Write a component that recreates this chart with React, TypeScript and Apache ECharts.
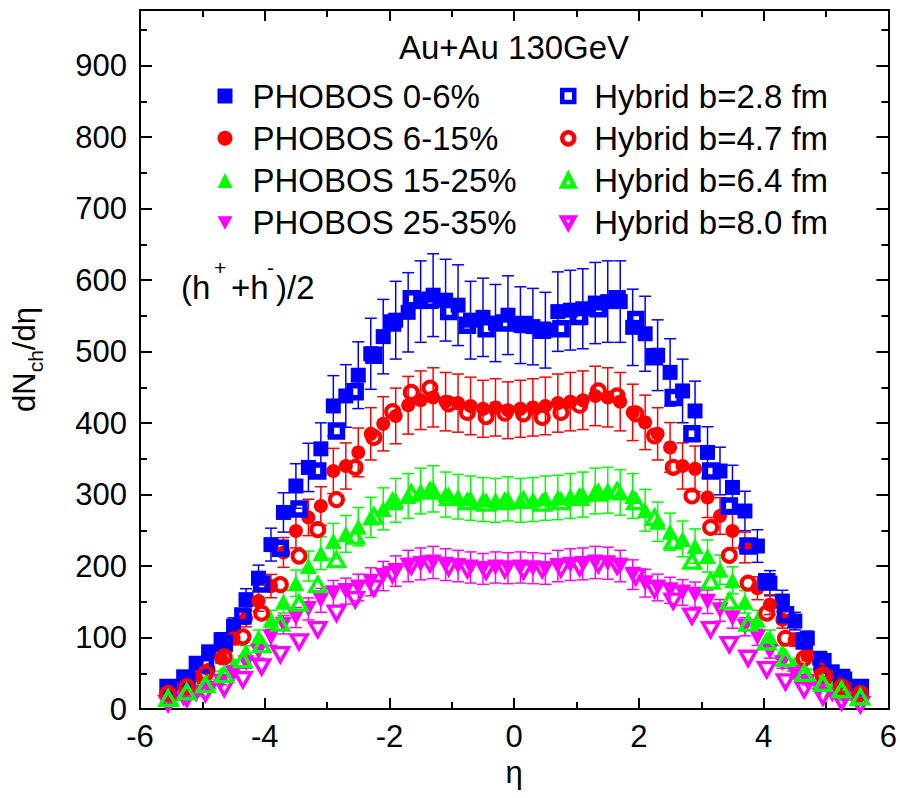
import React, { useEffect, useRef } from 'react';
import * as echarts from 'echarts';

const FONT = '"Liberation Sans", Arial, Helvetica, sans-serif';

// eta bin centres
const ETA_PHOBOS = [-5.5, -5.3, -5.1, -4.9, -4.7, -4.5, -4.3, -4.1, -3.9, -3.7, -3.5, -3.3, -3.1, -2.9, -2.7, -2.5, -2.3, -2.1, -1.9, -1.7, -1.5, -1.3, -1.1, -0.9, -0.7, -0.5, -0.3, -0.1,
  0.1, 0.3, 0.5, 0.7, 0.9, 1.1, 1.3, 1.5, 1.7, 1.9, 2.1, 2.3, 2.5, 2.7, 2.9, 3.1, 3.3, 3.5, 3.7, 3.9, 4.1, 4.3, 4.5, 4.7, 4.9, 5.1, 5.3, 5.5];
const ETA_HYBRID = [-5.55, -5.25, -4.95, -4.65, -4.35, -4.05, -3.75, -3.45, -3.15, -2.85, -2.55, -2.25, -1.95, -1.65, -1.35, -1.05, -0.75, -0.45, -0.15,
  0.15, 0.45, 0.75, 1.05, 1.35, 1.65, 1.95, 2.25, 2.55, 2.85, 3.15, 3.45, 3.75, 4.05, 4.35, 4.65, 4.95, 5.25, 5.55];

// PHOBOS data (dNch/deta)
const PHOBOS_0_6 = [29, 45, 64, 80, 97, 116, 153, 183, 230, 275, 312, 338, 364, 424, 438, 467, 497, 521, 544, 555, 570, 579, 572, 565, 544, 548, 540, 551,
  537, 535, 530, 556, 558, 560, 568, 570, 570, 534, 525, 495, 471, 445, 417, 359, 333, 310, 277, 228, 176, 151, 123, 99, 71, 52, 42, 31];
const PHOBOS_6_15 = [22, 33, 43, 55, 71, 99, 127, 151, 172, 219, 249, 268, 284, 333, 340, 359, 385, 399, 410, 425, 432, 436, 430, 428, 424, 420, 422, 418,
  420, 422, 424, 428, 430, 432, 438, 436, 430, 415, 401, 385, 366, 340, 336, 296, 270, 249, 226, 169, 146, 125, 97, 75, 56, 44, 33, 22];
const PHOBOS_15_25 = [15, 22, 28, 38, 48, 62, 80, 100, 125, 150, 176, 200, 218, 235, 245, 255, 268, 280, 292, 298, 305, 308, 300, 297, 295, 293, 292, 294,
  292, 293, 295, 296, 298, 300, 305, 306, 303, 298, 278, 262, 248, 238, 228, 214, 195, 180, 150, 125, 100, 80, 63, 50, 38, 28, 22, 15];
const PHOBOS_25_35 = [9, 14, 20, 28, 38, 50, 64, 80, 100, 118, 128, 140, 152, 162, 165, 170, 178, 186, 193, 200, 203, 205, 202, 200, 198, 196, 198, 197,
  198, 197, 196, 200, 202, 203, 205, 204, 200, 188, 176, 170, 166, 163, 160, 150, 138, 127, 115, 100, 80, 64, 50, 38, 28, 20, 14, 9];

// relative error bars
const PHOBOS_REL_ERR = [0.1, 0.095, 0.105, 0.11];

// Hybrid model
const HYBRID_28 = [30, 42, 62, 92, 130, 175, 225, 280, 333, 389, 444, 495, 540, 574, 572, 556, 537, 532, 540,
  538, 530, 532, 549, 560, 574, 545, 493, 436, 385, 333, 284, 228, 178, 132, 95, 66, 44, 30];
const HYBRID_47 = [22, 31, 50, 73, 101, 134, 174, 214, 251, 293, 338, 380, 416, 443, 449, 427, 415, 409, 414,
  413, 408, 415, 425, 445, 438, 413, 382, 338, 298, 254, 215, 176, 134, 99, 71, 48, 31, 22];
const HYBRID_64 = [15, 24, 34, 48, 69, 90, 120, 148, 174, 209, 242, 270, 290, 302, 305, 296, 290, 288, 290,
  292, 288, 290, 296, 302, 305, 290, 268, 235, 207, 179, 151, 120, 94, 71, 50, 36, 27, 17];
const HYBRID_80 = [8, 15, 22, 29, 41, 59, 76, 94, 111, 134, 153, 169, 188, 200, 203, 198, 195, 193, 195,
  193, 195, 196, 198, 202, 200, 185, 167, 151, 130, 111, 90, 71, 55, 38, 27, 17, 10, 6];

const PHOBOS_NAMES = ['PHOBOS 0-6%', 'PHOBOS 6-15%', 'PHOBOS 15-25%', 'PHOBOS 25-35%'];
const HYBRID_NAMES = ['Hybrid b=2.8 fm', 'Hybrid b=4.7 fm', 'Hybrid b=6.4 fm', 'Hybrid b=8.0 fm'];
const COLORS = ['#0000ff', '#ff0000', '#00ff00', '#ff00ff'];

const INV_TRI = 'path://M0,0L10,0L5,9Z';
const SYMBOLS = ['rect', 'circle', 'triangle', INV_TRI];
const FILLED_SIZE: any[] = [15, 14, [17, 16], [17, 16]];
const OPEN_SIZE: any[] = [12, 13, [16, 14], [16, 14]];
const OPEN_BORDER = [5.5, 4, 3.5, 3.5];

export default function App() {
  const ref = useRef<HTMLDivElement>(null);
  useEffect(() => {
    document.body.style.margin = '0';
    const chart = echarts.init(ref.current!, null, { renderer: 'svg' });

    const phobosSets = [PHOBOS_0_6, PHOBOS_6_15, PHOBOS_15_25, PHOBOS_25_35];
    const hybridSets = [HYBRID_28, HYBRID_47, HYBRID_64, HYBRID_80];

    const series: any[] = [];
    phobosSets.forEach((vals, i) => {
      const color = COLORS[i];
      const err = PHOBOS_REL_ERR[i];
      series.push({
        type: 'custom',
        name: PHOBOS_NAMES[i] + ' err',
        xAxisIndex: 0,
        yAxisIndex: 0,
        data: ETA_PHOBOS.map((e, k) => [e, vals[k] * (1 - err), vals[k] * (1 + err)]),
        encode: { x: 0, y: [1, 2] },
        silent: true,
        renderItem: (params: any, api: any) => {
          const x = api.value(0);
          const lo = api.coord([x, api.value(1)]);
          const hi = api.coord([x, api.value(2)]);
          const hw = 6;
          const st = { stroke: color, lineWidth: 1.5 };
          return {
            type: 'group',
            children: [
              { type: 'line', shape: { x1: lo[0], y1: lo[1], x2: hi[0], y2: hi[1] }, style: st },
              { type: 'line', shape: { x1: lo[0] - hw, y1: lo[1], x2: lo[0] + hw, y2: lo[1] }, style: st },
              { type: 'line', shape: { x1: hi[0] - hw, y1: hi[1], x2: hi[0] + hw, y2: hi[1] }, style: st },
            ],
          };
        },
        z: 2,
      });
      series.push({
        type: 'scatter',
        name: PHOBOS_NAMES[i],
        xAxisIndex: 0,
        yAxisIndex: 0,
        data: ETA_PHOBOS.map((e, k) => [e, vals[k]]),
        symbol: SYMBOLS[i],
        symbolSize: FILLED_SIZE[i],
        itemStyle: { color, opacity: 1 },
        z: 3,
      });
    });
    [3, 0, 1, 2].forEach((i) => {
      const vals = hybridSets[i];
      series.push({
        type: 'scatter',
        name: HYBRID_NAMES[i],
        xAxisIndex: 0,
        yAxisIndex: 0,
        data: ETA_HYBRID.map((e, k) => [e, vals[k]]),
        symbol: SYMBOLS[i],
        symbolSize: OPEN_SIZE[i],
        itemStyle: { color: 'rgba(255,255,255,0)', borderColor: COLORS[i], borderWidth: OPEN_BORDER[i], opacity: 1 },
        z: 4,
      });
    });

    const axisLine = { show: true, onZero: false, lineStyle: { color: '#000', width: 2 } };
    const tickStyle = { color: '#000', width: 2 };
    const labelStyle = { fontSize: 31, color: '#000', fontFamily: FONT };

    const xCommon = {
      type: 'value', min: -6, max: 6, interval: 2,
      axisLine, splitLine: { show: false },
      axisTick: { show: true, inside: true, length: 11, lineStyle: tickStyle },
      minorTick: { show: true, splitNumber: 2, length: 7, lineStyle: tickStyle },
    };
    const yMajor = {
      type: 'value', min: 0, max: 978, interval: 100,
      axisLine, splitLine: { show: false },
      axisTick: { show: true, inside: true, length: 12, lineStyle: tickStyle },
    };
    const yMinor = {
      type: 'value', min: 0, max: 978, interval: 50,
      axisLine, splitLine: { show: false },
      axisLabel: { show: false },
      axisTick: { show: true, inside: true, length: 7, lineStyle: tickStyle },
    };

    const legendText = { fontSize: 33, color: '#000', fontFamily: FONT, lineHeight: 36, padding: [0, 0, 0, 15] };
    const txt = (text: string, x: number, y: number, size: number) => ({
      type: 'text', x, y, z: 10,
      style: { text, fontSize: size, fontFamily: FONT, fill: '#000', align: 'left', verticalAlign: 'middle' },
    });

    chart.setOption({
      animation: false,
      backgroundColor: '#fff',
      grid: { left: 140, right: 3, top: 10, bottom: 89, containLabel: false },
      xAxis: [
        {
          ...xCommon, position: 'bottom',
          axisLabel: { ...labelStyle, margin: 12 },
          name: 'η', nameLocation: 'middle', nameGap: 46,
          nameTextStyle: { fontSize: 31, color: '#000', fontFamily: FONT },
        },
        { ...xCommon, position: 'top', axisLabel: { show: false } },
      ],
      yAxis: [
        {
          ...yMajor, position: 'left',
          axisLabel: { ...labelStyle, margin: 13, showMaxLabel: false },
          name: '{n|dN}{s|ch}{n|/dη}', nameLocation: 'middle', nameGap: 97,
          nameTextStyle: {
            color: '#000', fontFamily: FONT,
            rich: {
              n: { fontSize: 31, fontFamily: FONT, color: '#000', lineHeight: 34, verticalAlign: 'top' },
              s: { fontSize: 21, fontFamily: FONT, color: '#000', lineHeight: 21, verticalAlign: 'top', padding: [16, 0, 0, 0] },
            },
          },
        },
        { ...yMinor, position: 'left' },
        { ...yMajor, position: 'right', axisLabel: { show: false } },
        { ...yMinor, position: 'right' },
      ],
      legend: [
        {
          orient: 'vertical', left: 212.5, top: 73, itemWidth: 15, itemHeight: 15, itemGap: 6.3,
          selectedMode: false, textStyle: legendText,
          data: PHOBOS_NAMES.map((n, i) => ({
            name: n, icon: SYMBOLS[i],
            itemStyle: { color: COLORS[i], borderWidth: 0 },
          })),
        },
        {
          orient: 'vertical', left: 555, top: 73, itemWidth: 12, itemHeight: 12, itemGap: 6.3,
          selectedMode: false, textStyle: legendText,
          data: HYBRID_NAMES.map((n, i) => ({
            name: n, icon: SYMBOLS[i],
            itemStyle: { color: 'rgba(255,255,255,0)', borderColor: COLORS[i], borderWidth: 4.5 },
          })),
        },
      ],
      graphic: [
        {
          type: 'text', x: 514, y: 47, z: 10,
          style: { text: 'Au+Au 130GeV', fontSize: 33, fontFamily: FONT, fill: '#000', align: 'center', verticalAlign: 'middle' },
        },
        txt('(h', 181, 287, 33),
        txt('+', 214, 267, 21),
        txt('+h', 231, 287, 33),
        txt('-', 267, 267, 21),
        txt(')/2', 276, 287, 33),
      ],
      series,
    });
    return () => chart.dispose();
  }, []);
  return <div ref={ref} style={{ width: 900, height: 798 }} />;
}
